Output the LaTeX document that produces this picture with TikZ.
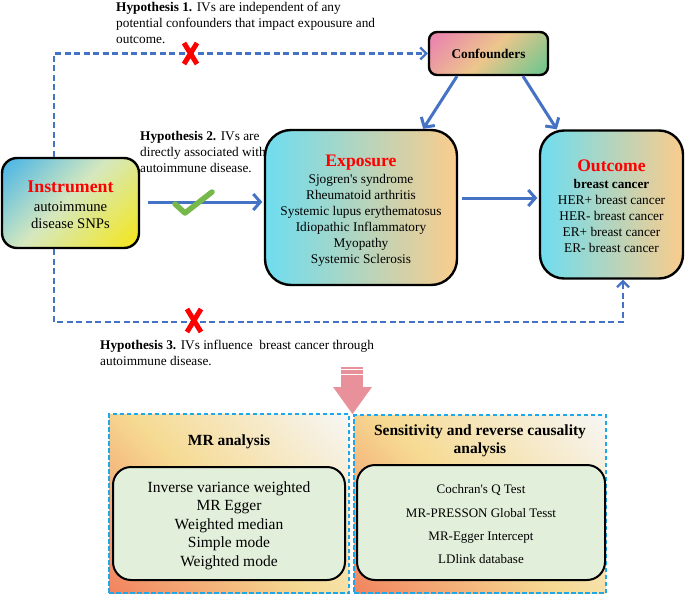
\documentclass[tikz,border=0pt]{standalone}
\usepackage{fontspec}
\setmainfont{Liberation Serif}
\usetikzlibrary{arrows.meta,calc}
\definecolor{lineblue}{HTML}{4472C4}
\definecolor{titlered}{HTML}{FF0000}
\definecolor{instblue}{HTML}{45B4E8}
\definecolor{instmid}{HTML}{D6E8BE}
\definecolor{instyel}{HTML}{F4E61A}
\definecolor{confpink}{HTML}{EA88AC}
\definecolor{confmid}{HTML}{EDC68C}
\definecolor{confgreen}{HTML}{78C68E}
\definecolor{expcyan}{HTML}{6EDDF0}
\definecolor{exporange}{HTML}{FACC8C}
\definecolor{anaorange}{HTML}{F2845F}
\definecolor{anamid}{HTML}{F6DA92}
\definecolor{anawhite}{HTML}{F6F6F4}
\definecolor{dashcyan}{HTML}{1EA8EA}
\definecolor{innergreen}{HTML}{E2EFDA}
\definecolor{pinkarrow}{HTML}{E9919B}
\definecolor{checkgreen}{HTML}{76B84A}
\pgfdeclareverticalshading{instshade}{100bp}{color(0bp)=(instyel); color(16bp)=(instyel); color(52bp)=(instmid); color(85bp)=(instblue); color(100bp)=(instblue)}
\pgfdeclareverticalshading{confshade}{100bp}{color(0bp)=(confgreen); color(20bp)=(confgreen); color(50bp)=(confmid); color(80bp)=(confpink); color(100bp)=(confpink)}
\pgfdeclareverticalshading{anashade}{100bp}{color(0bp)=(anaorange); color(15bp)=(anaorange); color(48bp)=(anamid); color(85bp)=(anawhite); color(100bp)=(anawhite)}
\begin{document}
\begin{tikzpicture}[x=1pt,y=-1pt,
  box/.style={draw=black, line width=2.4pt, align=center, inner sep=0pt},
  arr/.style={draw=lineblue, line width=3pt, -{Straight Barb[length=7pt,width=16pt]}},
  hdash/.style={draw=lineblue, line width=2.2pt, dash pattern=on 6pt off 3.5pt, -{Straight Barb[length=6pt,width=12pt]}},
  hyptext/.style={anchor=north west, inner sep=0pt, align=left, font=\fontsize{13.3}{16}\selectfont},
  anabox/.style={draw=dashcyan, line width=1.5pt, dash pattern=on 4.5pt off 2.5pt, shading=anashade, shading angle=-45, inner sep=0pt},
  innerbox/.style={draw=black, line width=2pt, fill=innergreen, rounded corners=18pt, align=center, inner sep=0pt},
  xmark/.style={draw=titlered, line width=5pt}
]
\useasboundingbox (0,0) rectangle (685,594);

% hypothesis texts
\node[hyptext] (h1) at (116,1.5) {\textbf{Hypothesis 1.} IVs are independent of any\\potential confounders that impact expousure and\\outcome.};
\node[hyptext] (h2) at (140,131.5) {\textbf{Hypothesis 2.} IVs are\\directly associated with\\autoimmune disease.};
\node[hyptext] (h3) at (100,339.5) {\textbf{Hypothesis 3.} IVs influence\ \ breast cancer through\\autoimmune disease.};

% main boxes
\node[box, rounded corners=8pt, shading=confshade, shading angle=45,
  minimum width=119pt, minimum height=43pt, font=\fontsize{13.3}{16}\selectfont\bfseries] (conf) at (488.5,53.5) {Confounders};

\node[box, rounded corners=15pt, shading=instshade, shading angle=45,
  minimum width=137pt, minimum height=90pt, font=\fontsize{14.7}{17}\selectfont] (inst) at (70.5,203)
  {{\fontsize{17.8}{19}\selectfont\bfseries\color{titlered}\rule{0pt}{14.8pt}Instrument}\\[2pt]autoimmune\\disease SNPs};

\node[box, rounded corners=26pt, left color=expcyan, right color=exporange,
  minimum width=192pt, minimum height=155pt, font=\fontsize{13.3}{16}\selectfont] (expo) at (361,207.5)
  {{\fontsize{17.6}{19}\selectfont\bfseries\color{titlered}\rule{0pt}{17.7pt}Exposure}\\[1pt]Sjogren\textquotesingle s syndrome\\Rheumatoid arthritis\\Systemic lupus erythematosus\\Idiopathic Inflammatory\\Myopathy\\Systemic Sclerosis};

\node[box, rounded corners=24pt, left color=expcyan, right color=exporange,
  minimum width=143pt, minimum height=148pt, font=\fontsize{13.3}{16}\selectfont] (outc) at (611.5,204.5)
  {{\fontsize{17.6}{19}\selectfont\bfseries\color{titlered}\rule{0pt}{14.9pt}Outcome}\\[1pt]{\bfseries\fontsize{13.2}{16}\selectfont breast cancer}\\HER+ breast cancer\\HER- breast cancer\\ER+ breast cancer\\ER- breast cancer};

% helper coordinates
\coordinate (cx) at (54,0);
\coordinate (ay) at (0,202);
\coordinate (by) at (0,198);
\coordinate (cb) at (623,322);

% connectors
\draw[hdash] (inst.north -| cx) |- (conf.west);
\draw[hdash] (inst.south -| cx) |- (cb) -- (outc.south -| cb);
\draw[arr, shorten <=8pt, shorten >=1.5pt] (inst.east |- ay) -- (expo.west |- ay);
\draw[arr, shorten <=4pt, shorten >=1.5pt] (expo.east |- by) -- (outc.west |- by);
\draw[arr] ([xshift=-31.5pt]conf.south) -- ([xshift=-35pt]expo.north east);
\draw[arr] ([xshift=34.5pt]conf.south) -- ([xshift=18pt]outc.north west);

% marks
\draw[xmark] (184,43) -- (197,64) (197,43) -- (184,64);
\draw[xmark] (187,309) -- (201,332) (201,309) -- (187,332);
\draw[draw=checkgreen, line width=5.5pt, line cap=round, line join=round] (175,204) -- (185,213) -- (212,192);

% pink arrow
\fill[pinkarrow] (341,366.5) rectangle (363,368.5);
\fill[pinkarrow] (341,369.5) rectangle (363,373.5);
\fill[pinkarrow] (341,374.5) rectangle (363,388);
\fill[pinkarrow] (333,387) -- (372,387) -- (352.5,414) -- cycle;

% analysis panels
\node[anabox, minimum width=240pt, minimum height=179pt] (mr) at (229,503.5) {};
\node[anabox, minimum width=252pt, minimum height=178pt] (sens) at (480,504) {};

\node[font=\fontsize{15.5}{18}\selectfont\bfseries, inner sep=0pt] (mrt) at (229,442) {MR analysis};
\node[font=\fontsize{15.5}{18}\selectfont\bfseries, inner sep=0pt, align=center] (senst) at (480,441) {Sensitivity and reverse causality\\analysis};

\node[innerbox, minimum width=232pt, minimum height=113pt, font=\fontsize{15.5}{18.5}\selectfont] (mri) at (229,523.5)
  {\rule{0pt}{14.6pt}Inverse variance weighted\\MR Egger\\Weighted median\\Simple mode\\Weighted mode};
\node[innerbox, minimum width=248pt, minimum height=115pt, font=\fontsize{13}{23.3}\selectfont] (sensi) at (481,522.5)
  {\rule{0pt}{12.9pt}Cochran\textquotesingle s Q Test\\MR-PRESSON Global Tesst\\MR-Egger Intercept\\LDlink database};
\end{tikzpicture}
\end{document}
